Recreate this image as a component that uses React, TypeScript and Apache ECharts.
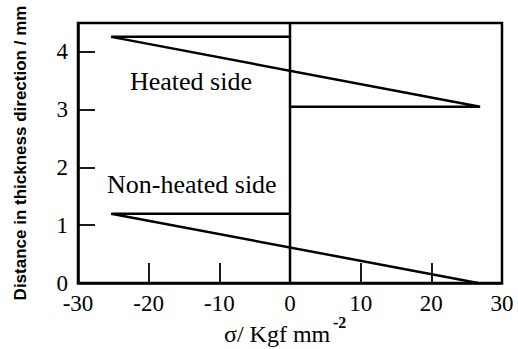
import React, { useEffect, useRef } from "react";
import * as echarts from "echarts";

const xTicks = [-30, -20, -10, 0, 10, 20, 30];
const yTicks = [0, 1, 2, 3, 4];
const heatedSide: [number, number][] = [
  [0, 4.26],
  [-25.3, 4.26],
  [26.9, 3.05],
  [0, 3.05],
];
const nonHeatedSide: [number, number][] = [
  [0, 1.2],
  [-25.3, 1.2],
  [26.6, 0],
];
const zeroLine: [number, number][] = [
  [0, 0],
  [0, 4.5],
];

const FONT = "Liberation Serif, Times New Roman, serif";

export default function App() {
  const ref = useRef<HTMLDivElement>(null);
  useEffect(() => {
    if (!ref.current) return;
    const chart = echarts.init(ref.current, null, { renderer: "svg" });
    const lineStyle = { color: "#000", width: 2.5 };
    chart.setOption({
      animation: false,
      backgroundColor: "#fff",
      grid: {
        left: 78,
        right: 16,
        top: 23,
        bottom: 66,
        show: true,
        borderColor: "#000",
        borderWidth: 2.5,
      },
      xAxis: {
        type: "value",
        min: xTicks[0],
        max: xTicks[xTicks.length - 1],
        interval: 10,
        splitLine: { show: false },
        axisLine: { show: true, onZero: false, lineStyle: { color: "#000", width: 2.5 } },
        axisTick: { show: true, inside: true, length: 20, lineStyle: { color: "#000", width: 1.8 } },
        axisLabel: { color: "#000", fontFamily: FONT, fontSize: 23, margin: 9 },
      },
      yAxis: {
        type: "value",
        min: 0,
        max: 4.5,
        interval: 1,
        splitLine: { show: false },
        axisLine: { show: true, onZero: false, lineStyle: { color: "#000", width: 2.5 } },
        axisTick: { show: true, inside: true, length: 17, lineStyle: { color: "#000", width: 1.8 } },
        axisLabel: {
          color: "#000",
          fontFamily: FONT,
          fontSize: 23,
          margin: 10,
          showMaxLabel: false,
          formatter: (v: number) => (yTicks.includes(v) ? String(v) : ""),
        },
      },
      graphic: [
        {
          type: "text",
          x: 130,
          y: 68,
          style: { text: "Heated side", fontFamily: FONT, fontSize: 26, fill: "#000" },
        },
        {
          type: "text",
          x: 107,
          y: 171,
          style: { text: "Non-heated side", fontFamily: FONT, fontSize: 26, fill: "#000" },
        },
        {
          type: "text",
          x: 20,
          y: 153,
          rotation: Math.PI / 2,
          style: {
            text: "Distance in thickness direction / mm",
            fontFamily: "Liberation Sans, Arial, sans-serif",
            fontWeight: "bold",
            fontSize: 17,
            fill: "#000",
            align: "center",
            verticalAlign: "middle",
          },
        },
        {
          type: "text",
          x: 224,
          y: 322,
          style: {
            text: "σ/ Kgf mm",
            fontFamily: FONT,
            fontSize: 24,
            fill: "#000",
          },
        },
        {
          type: "text",
          x: 333,
          y: 314,
          style: {
            text: "-2",
            fontFamily: FONT,
            fontWeight: "bold",
            fontSize: 16,
            fill: "#000",
          },
        },
      ],
      series: [
        { type: "line", data: heatedSide, symbol: "none", lineStyle, silent: true },
        { type: "line", data: nonHeatedSide, symbol: "none", lineStyle, silent: true },
        { type: "line", data: zeroLine, symbol: "none", lineStyle, silent: true },
      ],
    });
    return () => chart.dispose();
  }, []);
  return <div ref={ref} style={{ position: "fixed", left: 0, top: 0, width: 518, height: 349 }} />;
}
